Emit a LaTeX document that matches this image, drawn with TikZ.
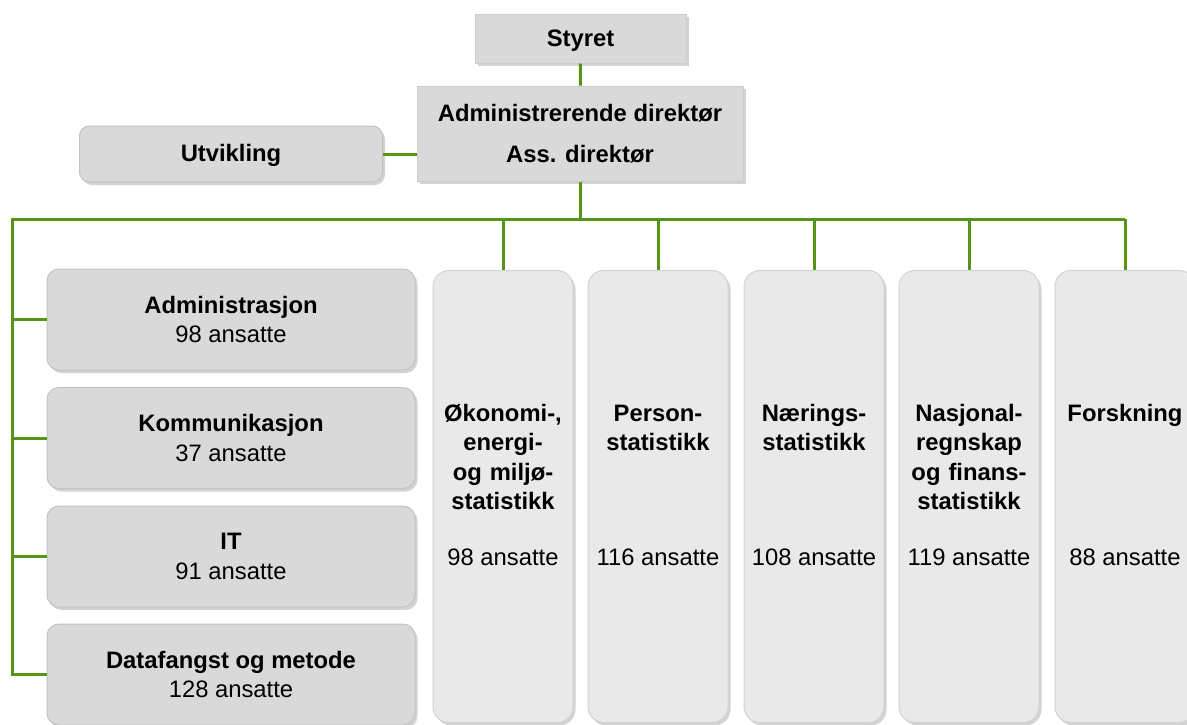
\documentclass[tikz,border=0pt]{standalone}
\usepackage{fontspec}
\setmainfont{Liberation Sans}
\usetikzlibrary{shadows}

\definecolor{ssbgreen}{RGB}{84,148,22}
\definecolor{boxgray}{RGB}{217,217,217}
\definecolor{colgray}{RGB}{233,233,233}

\newcommand{\orgfont}{\fontsize{23.8}{29.5}\selectfont}

\tikzset{
  link/.style={draw=ssbgreen, line width=3pt},
  topbox/.style={draw=gray!40, line width=1pt, fill=boxgray, inner sep=0pt,
    drop shadow={opacity=0.35, shadow xshift=2.5pt, shadow yshift=-3pt}},
  unitbox/.style={topbox, draw=boxgray!90!black, rounded corners=12pt,
    minimum width=368pt, minimum height=101pt, align=center},
  colbox/.style={topbox, draw=colgray!90!black, fill=colgray, rounded corners=16pt,
    minimum width=140pt, minimum height=452pt, anchor=north},
  coltitle/.style={anchor=base, text width=150pt, align=center, font=\orgfont\bfseries},
  colcount/.style={anchor=base}
}

\begin{document}
\begin{tikzpicture}[x=1pt, y=-1pt, font=\orgfont]
    \useasboundingbox (0,0) rectangle (1187,724);
    \clip (0,0) rectangle (1187,724);

    % ledelse
    \node[topbox, minimum width=211pt, minimum height=49pt, text depth=0pt, font=\orgfont\bfseries] (styret) at (580.5,38.5) {Styret};
    \node[topbox, minimum width=326pt, minimum height=95pt, align=center, font=\orgfont\bfseries] (adm) at (580,133.5) {Administrerende direktør\\[12pt]Ass. direktør};
    \node[topbox, rounded corners=10pt, draw=boxgray!90!black, minimum width=303pt, minimum height=56pt, text depth=2pt, font=\orgfont\bfseries] (utv) at (231,154) {Utvikling};

    % staber
    \node[unitbox] (admin) at (231,319.5) {\textbf{Administrasjon}\\98 ansatte};
    \node[unitbox] (komm) at (231,438) {\textbf{Kommunikasjon}\\37 ansatte};
    \node[unitbox] (it) at (231,556.5) {\textbf{IT}\\91 ansatte};
    \node[unitbox] (data) at (231,674.5) {\textbf{Datafangst og metode}\\128 ansatte};

    % avdelinger
    \node[colbox] (oek) at (503,270) {};
    \node[colbox] (pers) at (658,270) {};
    \node[colbox] (naer) at (814,270) {};
    \node[colbox] (nasj) at (969,270) {};
    \node[colbox] (forsk) at (1125,270) {};

    \node[coltitle] (oekT) at (oek.center |- 0,421) {Økonomi-,\\energi-\\og miljø-\\statistikk};
    \node[coltitle] (persT) at (pers.center |- 0,421) {Person-\\statistikk};
    \node[coltitle] (naerT) at (naer.center |- 0,421) {Nærings-\\statistikk};
    \node[coltitle] (nasjT) at (nasj.center |- 0,421) {Nasjonal-\\regnskap\\og finans-\\statistikk};
    \node[coltitle] (forskT) at (forsk.center |- 0,421) {Forskning};

    \node[colcount] (oekN) at (oek.center |- 0,565) {98 ansatte};
    \node[colcount] (persN) at (pers.center |- 0,565) {116 ansatte};
    \node[colcount] (naerN) at (naer.center |- 0,565) {108 ansatte};
    \node[colcount] (nasjN) at (nasj.center |- 0,565) {119 ansatte};
    \node[colcount] (forskN) at (forsk.center |- 0,565) {88 ansatte};

    % linjer
    \coordinate (busL) at (12,219);
    \coordinate (busR) at (1125,219);
    \draw[link] (styret) -- (adm);
    \draw[link] (utv.east) -- (utv.east -| adm.west);
    \draw[link] (adm.south) -- (adm.south |- busL);
    \draw[link] (busR) -- (busL) -- (busL |- data.west) -- (data.west);
    \foreach \u in {admin,komm,it}
      \draw[link] (busL |- \u.west) -- (\u.west);
    \foreach \c in {oek,pers,naer,nasj,forsk}
      \draw[link] (\c.north |- busL) -- (\c.north);
\end{tikzpicture}
\end{document}
